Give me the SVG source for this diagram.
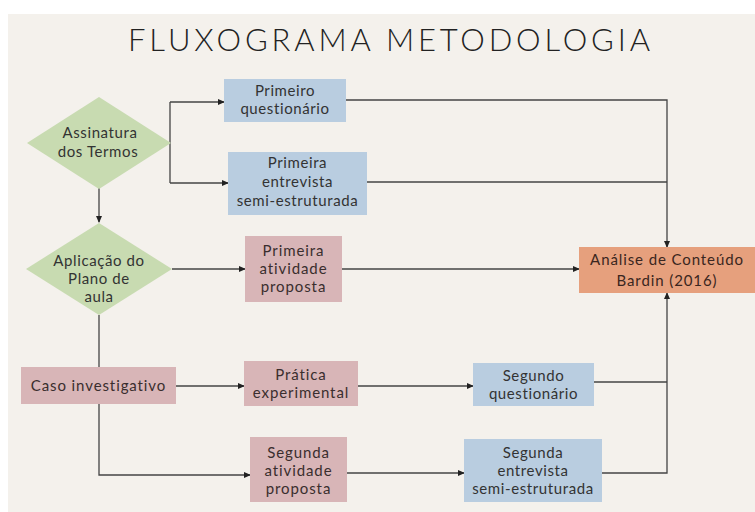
<svg xmlns="http://www.w3.org/2000/svg" width="755" height="512" viewBox="0 0 755 512">
<defs>
<marker id="ah" viewBox="0 0 8 8" refX="7" refY="4" markerWidth="7" markerHeight="7" markerUnits="userSpaceOnUse" orient="auto">
<path d="M0,0.5 L8,4 L0,7.5 Z" fill="#222"/>
</marker>
<style>
.t{font-family:Lato,"Liberation Sans",sans-serif;font-size:15px;fill:#333;text-anchor:middle;letter-spacing:0.6px}
.tp{font-family:Lato,"Liberation Sans",sans-serif;font-size:15px;fill:#3a2e2e;text-anchor:middle;letter-spacing:0.9px}
.blue{fill:#B9CDE0}
.pink{fill:#D8B5B7}
.green{fill:#C8DBB1}
.orange{fill:#E6A07D}
.c{fill:none;stroke:#444;stroke-width:1.3}
.ca{fill:none;stroke:#444;stroke-width:1.3;marker-end:url(#ah)}
</style>
</defs>
<rect x="0" y="0" width="755" height="512" fill="#ffffff"/>
<rect x="8" y="14" width="747" height="498" fill="#F4F1EC"/>
<text x="389" y="51" textLength="522" lengthAdjust="spacing" style="font-family:Lato,'Liberation Sans',sans-serif;font-weight:300;font-size:31px;fill:#222;text-anchor:middle">FLUXOGRAMA METODOLOGIA</text>

<g id="connectors">
<path class="c" d="M170,102 V183"/>
<path class="ca" d="M170,102 H224"/>
<path class="ca" d="M170,183 H228"/>
<path class="ca" d="M99,188 V222"/>
<path class="ca" d="M172,269 H245"/>
<path class="ca" d="M342,269 H579"/>
<path class="c" d="M99,315 V367"/>
<path class="ca" d="M176,386 H244"/>
<path class="ca" d="M99,404 V475 H250"/>
<path class="ca" d="M358,386 H473"/>
<path class="ca" d="M347,473 H464"/>
<path class="ca" d="M346,100 H667 V247"/>
<path class="c" d="M367,182 H667"/>
<path class="c" d="M594,382 H667"/>
<path class="ca" d="M602,473 H667 V293"/>
</g>

<g id="assinatura">
<polygon class="green" points="99,97 171,143 99,189 27,143"/>
<text class="t" x="100" y="138">Assinatura</text>
<text class="t" x="98" y="157">dos Termos</text>
</g>
<g id="primeiro-questionario">
<rect class="blue" x="224" y="79" width="122" height="43"/>
<text class="t" x="285" y="96">Primeiro</text>
<text class="t" x="285" y="114">questionário</text>
</g>
<g id="primeira-entrevista">
<rect class="blue" x="228" y="152" width="139" height="63"/>
<text class="t" x="297.5" y="168">Primeira</text>
<text class="t" x="297.5" y="187">entrevista</text>
<text class="t" x="297.5" y="206">semi-estruturada</text>
</g>
<g id="aplicacao">
<polygon class="green" points="99,223 172,269 99,315 26,269"/>
<text class="t" x="99" y="266">Aplicação do</text>
<text class="t" x="99" y="284">Plano de</text>
<text class="t" x="99" y="302">aula</text>
</g>
<g id="primeira-atividade">
<rect class="pink" x="245" y="236" width="97" height="66"/>
<text class="tp" x="293.5" y="256">Primeira</text>
<text class="tp" x="293.5" y="274">atividade</text>
<text class="tp" x="293.5" y="292">proposta</text>
</g>
<g id="analise">
<rect class="orange" x="579" y="247" width="176" height="46"/>
<text class="tp" x="667" y="265" style="fill:#3a2620">Análise de Conteúdo</text>
<text class="tp" x="667" y="286" style="fill:#3a2620">Bardin (2016)</text>
</g>
<g id="caso">
<rect class="pink" x="21" y="367" width="155" height="37"/>
<text class="tp" x="98.5" y="391">Caso investigativo</text>
</g>
<g id="pratica">
<rect class="pink" x="244" y="361" width="114" height="45"/>
<text class="tp" x="301" y="380">Prática</text>
<text class="tp" x="301" y="398">experimental</text>
</g>
<g id="segundo-questionario">
<rect class="blue" x="473" y="363" width="121" height="43"/>
<text class="t" x="533.5" y="381">Segundo</text>
<text class="t" x="533.5" y="399">questionário</text>
</g>
<g id="segunda-atividade">
<rect class="pink" x="250" y="437" width="97" height="65"/>
<text class="tp" x="298.5" y="458">Segunda</text>
<text class="tp" x="298.5" y="476">atividade</text>
<text class="tp" x="298.5" y="494">proposta</text>
</g>
<g id="segunda-entrevista">
<rect class="blue" x="464" y="439" width="138" height="63"/>
<text class="t" x="533" y="458">Segunda</text>
<text class="t" x="533" y="476">entrevista</text>
<text class="t" x="533" y="494">semi-estruturada</text>
</g>
</svg>
